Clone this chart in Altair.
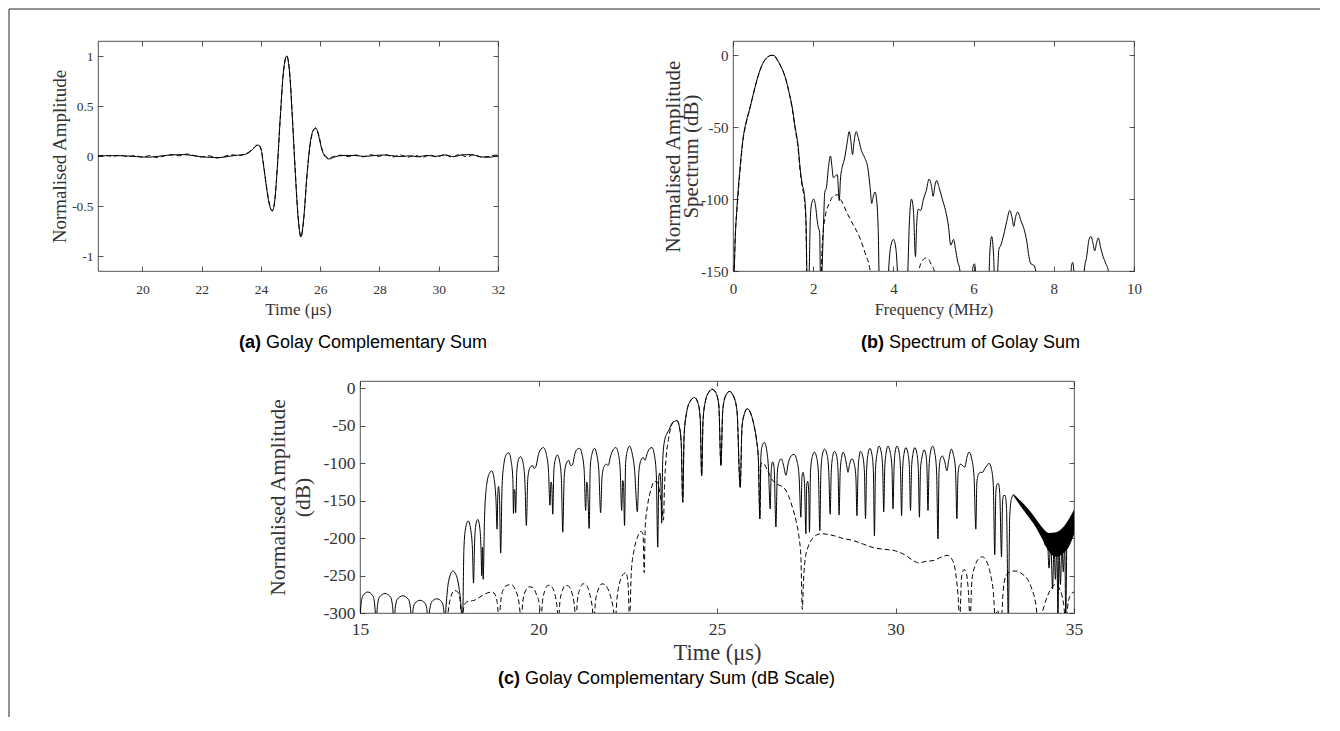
import altair as alt
import pandas as pd

# ---------------- data ----------------
# (a) Golay complementary sum, linear amplitude: (time us, amplitude)
a_solid = [(18.5,0.0),(19.0,0.004),(19.4,0.002),(19.8,-0.006),(20.2,-0.012),(20.5,-0.004),(20.8,0.006),
           (21.1,0.012),(21.4,0.014),(21.7,0.004),(22.0,-0.008),(22.3,-0.014),(22.6,-0.016),(22.9,-0.004),
           (23.2,0.008),(23.45,0.015),(23.6,0.035),(23.75,0.075),(23.9,0.11),(24.0,0.07),(24.08,-0.08),
           (24.18,-0.3),(24.28,-0.48),(24.38,-0.55),(24.46,-0.46),(24.55,-0.12),(24.65,0.38),(24.76,0.85),
           (24.87,1.0),(24.97,0.82),(25.06,0.38),(25.15,-0.12),(25.25,-0.6),(25.35,-0.81),(25.45,-0.6),
           (25.55,-0.2),(25.65,0.1),(25.75,0.25),(25.85,0.28),(25.95,0.2),(26.05,0.07),(26.15,0.0),
           (26.3,-0.03),(26.45,-0.015),(26.6,0.0),(26.9,0.006),(27.2,0.004),(27.5,-0.004),(27.8,0.004),
           (28.1,0.01),(28.4,0.004),(28.7,-0.006),(29.0,0.002),(29.3,-0.008),(29.6,0.006),(29.9,-0.004),
           (30.2,0.01),(30.5,-0.006),(30.8,0.012),(31.1,0.014),(31.4,-0.008),(31.7,-0.012),(32.0,0.004)]
a_dashed = [(18.5,0.0),(18.75,0.006),(19.0,-0.003),(19.25,0.008),(19.5,-0.006),(19.75,0.004),(20.0,-0.012),
            (20.25,0.004),(20.5,-0.016),(20.75,0.002),(21.0,0.014),(21.25,0.002),(21.5,0.02),(21.75,0.004),
            (22.0,-0.01),(22.25,0.002),(22.5,-0.02),(22.75,-0.006),(23.0,0.012),(23.25,0.004),(23.45,0.018),
            (23.6,0.04),(23.75,0.08),(23.9,0.115),(24.0,0.075),(24.08,-0.07),(24.18,-0.29),(24.28,-0.47),
            (24.38,-0.55),(24.46,-0.46),(24.55,-0.13),(24.65,0.37),(24.76,0.84),(24.87,1.0),(24.97,0.83),
            (25.06,0.39),(25.15,-0.11),(25.25,-0.59),(25.35,-0.81),(25.45,-0.61),(25.55,-0.21),(25.65,0.09),
            (25.75,0.24),(25.85,0.28),(25.95,0.21),(26.05,0.08),(26.15,0.01),(26.3,-0.02),(26.45,-0.005),
            (26.7,0.008),(26.95,-0.006),(27.2,0.01),(27.45,-0.008),(27.7,0.012),(27.95,-0.004),(28.2,0.014),
            (28.45,-0.01),(28.7,0.01),(28.95,-0.012),(29.2,0.006),(29.45,-0.014),(29.7,0.01),(29.95,-0.01),
            (30.2,0.016),(30.45,-0.012),(30.7,0.016),(30.95,-0.008),(31.2,0.014),(31.45,-0.012),(31.7,-0.004),
            (31.95,0.01),(32.0,0.008)]

# (b) spectrum: (frequency MHz, dB); values under -150 lie below the axis
b_solid = [(0.0,-170),(0.03,-150),(0.06,-125),(0.1,-105),(0.17,-80),(0.25,-58),(0.33,-46),(0.41,-38),
           (0.48,-30),(0.55,-22),(0.63,-14),(0.72,-7),(0.8,-3),(0.87,-1),(0.95,0),(1.02,0),(1.1,-3),
           (1.2,-8),(1.3,-15),(1.4,-26),(1.47,-35),(1.55,-50),(1.62,-62),(1.68,-80),(1.73,-90),(1.78,-97),
           (1.82,-115),(1.86,-170),(1.90,-150),(1.93,-112),(1.97,-102),(2.01,-100),(2.06,-105),(2.1,-115),
           (2.13,-120),(2.16,-123),(2.19,-170),(2.22,-150),(2.25,-124),(2.29,-95),(2.33,-92),(2.38,-78),
           (2.43,-70),(2.47,-78),(2.5,-85),(2.55,-84),(2.6,-83),(2.65,-101),(2.68,-86),(2.73,-77),
           (2.78,-72),(2.84,-62),(2.9,-53),(2.95,-62),(2.98,-69),(3.02,-60),(3.07,-53),(3.13,-58),
           (3.2,-66),(3.28,-71),(3.36,-78),(3.42,-92),(3.46,-103),(3.5,-98),(3.54,-95),(3.58,-100),
           (3.62,-120),(3.66,-170),(3.85,-170),(3.88,-150),(3.94,-132),(4.0,-128),(4.06,-134),(4.1,-150),
           (4.13,-170),(4.33,-170),(4.36,-150),(4.4,-115),(4.45,-100),(4.5,-108),(4.55,-140),(4.58,-118),
           (4.62,-107),(4.68,-108),(4.75,-100),(4.82,-94),(4.89,-86),(4.95,-91),(4.99,-98),(5.04,-90),
           (5.08,-87),(5.14,-92),(5.22,-100),(5.3,-108),(5.37,-118),(5.43,-132),(5.5,-128),(5.55,-135),
           (5.6,-143),(5.66,-150),(5.7,-170),(5.96,-170),(5.98,-148),(6.02,-145),(6.05,-150),(6.07,-170),
           (6.37,-170),(6.4,-140),(6.45,-126),(6.5,-140),(6.54,-170),(6.6,-150),(6.63,-135),(6.68,-132),
           (6.75,-125),(6.83,-115),(6.9,-108),(6.96,-113),(7.0,-119),(7.05,-112),(7.1,-109),(7.18,-115),
           (7.27,-122),(7.33,-130),(7.38,-140),(7.43,-145),(7.5,-146),(7.55,-150),(7.58,-170),(8.4,-170),
           (8.44,-147),(8.47,-144),(8.5,-150),(8.53,-170),(8.72,-170),(8.76,-150),(8.82,-140),(8.88,-128),
           (8.93,-126),(8.98,-131),(9.02,-136),(9.07,-130),(9.11,-127),(9.17,-134),(9.23,-140),(9.3,-145),
           (9.36,-150),(9.4,-170),(10.0,-170)]
b_dashed = [(0.0,-170),(0.03,-150),(0.05,-130),(0.1,-107),(0.17,-82),(0.25,-59),(0.33,-47),(0.41,-38),
            (0.48,-30),(0.55,-22),(0.63,-14),(0.72,-7),(0.8,-3),(0.87,-1),(0.95,0),(1.02,0),(1.1,-3),
            (1.2,-8),(1.3,-15),(1.4,-26),(1.47,-36),(1.55,-51),(1.62,-64),(1.68,-82),(1.73,-92),(1.78,-100),
            (1.82,-118),(1.85,-170),(2.18,-170),(2.22,-135),(2.3,-112),(2.4,-103),(2.5,-98),(2.6,-97),
            (2.7,-101),(2.85,-110),(3.0,-118),(3.15,-126),(3.3,-138),(3.42,-150),(3.46,-170),(4.6,-170),
            (4.65,-148),(4.72,-143),(4.8,-141),(4.88,-142),(4.95,-146),(5.02,-150),(5.05,-170)]

# (c) dB scale sum: (time us, dB); values under -300 lie below the axis
c_solid = [(15.00,-310),(15.03,-288),(15.08,-277),(15.22,-272),(15.36,-277),(15.41,-288),(15.45,-310),
           (15.49,-290),(15.54,-279),(15.70,-274),(15.86,-279),(15.91,-290),(15.95,-310),
           (15.99,-292),(16.04,-282),(16.20,-277),(16.36,-282),(16.41,-292),(16.45,-310),
           (16.49,-294),(16.54,-287),(16.68,-283),(16.82,-287),(16.87,-294),(16.91,-310),
           (16.96,-293),(17.01,-285),(17.15,-281),(17.29,-285),(17.34,-293),(17.38,-310),
           (17.42,-285),(17.48,-258),(17.60,-244),(17.70,-250),(17.77,-265),(17.83,-290),(17.86,-310),
           (17.88,-300),(17.91,-215),(17.96,-186),(18.03,-177),(18.10,-188),(18.15,-215),(18.18,-260),
           (18.21,-205),(18.25,-181),(18.30,-175),(18.36,-188),(18.39,-215),(18.41,-250),(18.43,-212),(18.45,-255),
           (18.49,-170),(18.55,-128),(18.62,-114),(18.69,-110),(18.76,-122),(18.81,-150),(18.84,-188),(18.86,-140),
           (18.88,-131),(18.91,-150),(18.94,-220),
           (18.98,-130),(19.04,-98),(19.10,-88),(19.17,-86),(19.23,-96),(19.28,-120),(19.30,-167),(19.32,-135),
           (19.34,-138),(19.36,-166),
           (19.39,-112),(19.44,-95),(19.50,-91),(19.57,-100),(19.62,-125),(19.66,-183),
           (19.70,-120),(19.76,-106),(19.83,-103),(19.88,-107),(19.93,-104),(20.00,-88),(20.07,-81),(20.14,-79),
           (20.22,-88),(20.28,-110),(20.32,-156),(20.35,-125),(20.37,-128),(20.40,-168),
           (20.43,-110),(20.47,-95),(20.53,-89),(20.59,-97),(20.64,-120),(20.68,-192),
           (20.72,-118),(20.78,-100),(20.85,-96),(20.90,-103),(20.95,-102),(21.02,-87),(21.09,-81),(21.15,-80),
           (21.22,-88),(21.28,-110),(21.32,-163),(21.35,-125),(21.37,-128),(21.42,-187),
           (21.45,-105),(21.50,-87),(21.57,-80),(21.63,-88),(21.69,-110),(21.74,-166),
           (21.78,-118),(21.84,-104),(21.90,-101),(21.95,-103),(22.02,-90),(22.09,-82),(22.17,-79),(22.24,-88),
           (22.29,-110),(22.33,-163),(22.36,-123),(22.38,-126),(22.41,-183),
           (22.44,-100),(22.49,-83),(22.55,-77),(22.62,-86),(22.69,-108),(22.77,-165),
           (22.81,-112),(22.87,-96),(22.93,-92),(22.98,-96),(23.05,-86),(23.12,-80),(23.18,-79),(23.25,-90),
           (23.30,-115),(23.34,-212),
           (23.37,-118),(23.40,-113),(23.43,-130),(23.45,-180),(23.48,-95),(23.53,-70),(23.60,-60),(23.66,-55),
           (23.72,-48),(23.80,-44),(23.88,-43),(23.95,-52),(24.00,-75),(24.04,-152),
           (24.08,-62),(24.15,-32),(24.25,-17),(24.37,-12),(24.47,-20),(24.53,-40),(24.57,-117),
           (24.61,-42),(24.68,-16),(24.77,-5),(24.86,-1),(24.96,-5),(25.05,-22),(25.11,-103),
           (25.16,-30),(25.24,-10),(25.35,-4),(25.46,-10),(25.56,-30),(25.65,-132),
           (25.70,-52),(25.76,-35),(25.85,-27),(25.95,-34),(26.04,-50),(26.11,-70),(26.16,-95),(26.20,-174),
           (26.23,-90),(26.27,-76),(26.33,-72),(26.39,-82),(26.44,-105),(26.49,-161),
           (26.52,-108),(26.56,-98),(26.60,-106),(26.65,-185),
           (26.69,-112),(26.74,-98),(26.80,-94),(26.87,-104),(26.93,-116),(27.00,-99),(27.08,-90),(27.16,-88),
           (27.24,-97),(27.30,-118),(27.35,-172),
           (27.38,-118),(27.41,-112),(27.45,-125),(27.49,-194),(27.51,-130),(27.54,-124),(27.57,-140),(27.59,-192),
           (27.62,-110),(27.67,-91),(27.73,-85),(27.79,-92),(27.84,-112),(27.88,-190),
           (27.91,-112),(27.95,-89),(28.01,-81),(28.08,-88),(28.13,-110),(28.17,-168),
           (28.20,-112),(28.24,-91),(28.29,-84),(28.35,-90),(28.39,-110),(28.42,-169),
           (28.45,-112),(28.49,-92),(28.53,-85),(28.59,-92),(28.64,-105),(28.67,-112),(28.71,-102),(28.78,-94),
           (28.84,-100),(28.89,-118),(28.92,-170),
           (28.95,-112),(28.98,-92),(29.02,-84),(29.08,-90),(29.13,-112),(29.16,-174),
           (29.19,-110),(29.23,-88),(29.28,-80),(29.34,-88),(29.38,-110),(29.41,-197),
           (29.44,-108),(29.49,-85),(29.54,-77),(29.60,-85),(29.64,-105),(29.67,-165),
           (29.70,-105),(29.74,-85),(29.79,-77),(29.85,-85),(29.90,-105),(29.93,-161),
           (29.96,-105),(29.99,-85),(30.04,-77),(30.10,-85),(30.14,-108),(30.17,-170),
           (30.20,-108),(30.24,-87),(30.29,-79),(30.35,-87),(30.39,-106),(30.42,-163),
           (30.45,-106),(30.49,-87),(30.54,-79),(30.60,-87),(30.64,-108),(30.67,-172),
           (30.70,-108),(30.75,-90),(30.80,-82),(30.85,-88),(30.88,-105),(30.91,-163),
           (30.94,-105),(30.98,-85),(31.04,-77),(31.10,-86),(31.15,-110),(31.19,-201),
           (31.22,-110),(31.26,-94),(31.31,-90),(31.38,-98),(31.44,-110),(31.49,-96),(31.56,-81),(31.62,-88),
           (31.68,-108),(31.72,-174),
           (31.75,-115),(31.79,-103),(31.83,-101),(31.88,-103),(31.94,-105),(32.00,-92),(32.06,-85),(32.13,-93),
           (32.20,-118),(32.25,-188),
           (32.28,-125),(32.33,-114),(32.38,-112),(32.44,-112),(32.50,-107),(32.56,-103),(32.62,-100),(32.69,-108),
           (32.74,-130),(32.78,-222),
           (32.81,-140),(32.84,-128),(32.88,-127),(32.92,-140),(32.97,-225),
           (33.00,-150),(33.03,-143),(33.07,-143),(33.11,-160),(33.16,-310),
           (33.20,-170),(33.25,-147),(33.31,-142),(33.40,-146),(33.50,-152),(33.62,-160),(33.75,-168),
           (33.88,-176),(34.00,-184),(34.12,-192),(34.20,-210),(34.25,-196),(34.30,-240),(34.35,-205),
           (34.40,-268),(34.44,-210),(34.48,-255),(34.52,-205),(34.55,-310),(34.58,-215),(34.62,-262),
           (34.66,-210),(34.70,-245),(34.74,-205),(34.77,-310),(34.80,-205),(34.85,-195),(34.90,-185),
           (34.95,-175),(35.00,-165)]
c_dashed = [(17.44,-310),(17.50,-288),(17.56,-276),(17.65,-270),(17.74,-272),(17.80,-282),(17.85,-310),
            (17.88,-300),(17.92,-290),(18.00,-285),(18.10,-284),(18.20,-283),(18.32,-280),(18.45,-276),
            (18.58,-273),(18.70,-272),(18.78,-275),(18.84,-285),(18.90,-310),
            (18.94,-285),(19.02,-268),(19.12,-263),(19.23,-262),(19.34,-268),(19.45,-285),(19.52,-310),
            (19.56,-285),(19.64,-270),(19.74,-265),(19.84,-266),(19.94,-275),(20.03,-290),(20.07,-310),
            (20.11,-285),(20.18,-270),(20.27,-263),(20.35,-264),(20.44,-272),(20.51,-288),(20.56,-310),
            (20.60,-285),(20.67,-270),(20.76,-263),(20.84,-264),(20.93,-272),(21.00,-288),(21.05,-310),
            (21.09,-283),(21.16,-268),(21.25,-261),(21.33,-262),(21.42,-272),(21.50,-290),(21.55,-310),
            (21.60,-283),(21.68,-268),(21.78,-261),(21.88,-263),(21.98,-272),(22.08,-290),(22.15,-310),
            (22.20,-280),(22.27,-260),(22.36,-249),(22.45,-246),(22.51,-262),(22.55,-310),
            (22.60,-245),(22.68,-215),(22.77,-199),(22.87,-191),(22.93,-195),(22.96,-246),(22.99,-185),
            (23.06,-155),(23.15,-135),(23.25,-124),(23.33,-125),(23.40,-140),(23.46,-160),(23.50,-176),
            (23.53,-130),(23.58,-90),(23.64,-68),(23.72,-50),(23.80,-44),(23.88,-43),(23.95,-52),(24.00,-75),
            (24.04,-152),
            (24.08,-62),(24.15,-32),(24.25,-17),(24.37,-12),(24.47,-20),(24.53,-40),(24.57,-117),
            (24.61,-42),(24.68,-16),(24.77,-5),(24.86,-1),(24.96,-5),(25.05,-22),(25.11,-103),
            (25.16,-30),(25.24,-10),(25.35,-4),(25.46,-10),(25.56,-30),(25.65,-132),
            (25.70,-52),(25.76,-35),(25.85,-27),(25.95,-34),(26.04,-50),(26.11,-70),(26.16,-95),(26.20,-174),
            (26.23,-100),(26.30,-100),(26.40,-108),(26.52,-120),(26.65,-127),(26.78,-130),(26.88,-133),
            (27.00,-143),(27.12,-160),(27.22,-178),(27.30,-200),(27.35,-225),(27.39,-295),(27.42,-260),
            (27.47,-228),(27.55,-212),(27.65,-202),(27.78,-196),(27.92,-194),(28.10,-195),(28.30,-197),
            (28.50,-200),(28.80,-203),(29.10,-208),(29.40,-213),(29.70,-215),(30.00,-217),(30.25,-222),
            (30.50,-230),(30.65,-233),(30.85,-231),(31.05,-230),(31.30,-225),(31.45,-223),(31.58,-228),
            (31.68,-245),(31.75,-275),(31.80,-310),(31.85,-252),(31.92,-242),(31.98,-246),(32.04,-270),
            (32.09,-310),(32.14,-256),(32.22,-238),(32.32,-228),(32.44,-225),(32.56,-232),(32.66,-248),
            (32.74,-272),(32.80,-310),(32.85,-296),(32.90,-302),(32.96,-310),(33.02,-268),(33.10,-250),
            (33.25,-244),(33.40,-244),(33.55,-248),(33.70,-255),(33.82,-268),(33.92,-285),(34.00,-310),
            (34.10,-300),(34.22,-282),(34.35,-268),(34.48,-262),(34.60,-268),(34.70,-285),(34.77,-310),
            (34.84,-285),(34.92,-275),(35.00,-272)]

# dense oscillation band at the right end of (c)
blob_t = [33.30, 33.50, 33.70, 33.90, 34.10, 34.30, 34.50, 34.70, 34.85, 35.00]
blob_hi = [-142, -150, -160, -172, -185, -193, -192, -185, -175, -162]
blob_lo = [-143, -157, -170, -183, -200, -218, -225, -220, -212, -195]

a_xticks = [20, 22, 24, 26, 28, 30, 32]
a_yticks = [-1, -0.5, 0, 0.5, 1]
b_xticks = [0, 2, 4, 6, 8, 10]
b_yticks = [-150, -100, -50, 0]
c_xticks = [15, 20, 25, 30, 35]
c_yticks = [-300, -250, -200, -150, -100, -50, 0]

cap_tags = ["(a)", "(b)", "(c)"]
cap_texts = ["Golay Complementary Sum", "Spectrum of Golay Sum", "Golay Complementary Sum (dB Scale)"]

# ---------------- styling ----------------
SERIF = "Liberation Serif"
SANS = "Liberation Sans"
INK = "#262626"
TXT = "#333333"


def to_df(pairs):
    return pd.DataFrame({"x": [p[0] for p in pairs], "y": [p[1] for p in pairs],
                         "i": list(range(len(pairs)))})


def ax_bottom(vals, title, lsize, tsize, lpad, ty):
    return alt.Axis(orient="bottom", values=vals, title=title, offset=-5, tickSize=5, tickWidth=0.8,
                    tickColor=INK, domain=False, grid=False, labelFont=SERIF, labelFontSize=lsize,
                    labelColor=TXT, labelPadding=lpad, labelFlush=False, labelOverlap=False,
                    labelExpr="'' + datum.value", titleFont=SERIF, titleFontSize=tsize,
                    titleFontWeight="normal", titleColor=TXT, titleY=ty, titleBaseline="middle")


def ax_left(vals, title, lsize, tsize, tx, ty, lh):
    return alt.Axis(orient="left", values=vals, title=title, offset=-5, tickSize=5, tickWidth=0.8,
                    tickColor=INK, domain=False, grid=False, labelFont=SERIF, labelFontSize=lsize,
                    labelColor=TXT, labelPadding=5, labelOverlap=False, labelExpr="'' + datum.value",
                    titleFont=SERIF, titleFontSize=tsize, titleFontWeight="normal", titleColor=TXT,
                    titleX=tx, titleY=ty, titleAngle=270, titleAlign="center", titleBaseline="middle",
                    titleLineHeight=lh)


def ax_top(vals):
    return alt.Axis(orient="top", values=vals, title="", labels=False, offset=-5, tickSize=5,
                    tickWidth=0.8, tickColor=INK, domain=False, grid=False)


def ax_right(vals):
    return alt.Axis(orient="right", values=vals, title="", labels=False, offset=-5, tickSize=5,
                    tickWidth=0.8, tickColor=INK, domain=False, grid=False)


one = pd.DataFrame({"k": [0]})


def caption(idx, x, y, dx):
    t1 = alt.Chart(one).mark_text(font=SANS, fontSize=18, fontWeight="bold", align="left",
                                  baseline="middle", color="black").encode(
        x=alt.value(x), y=alt.value(y), text=alt.value(cap_tags[idx]))
    t2 = alt.Chart(one).mark_text(font=SANS, fontSize=18, align="left", baseline="middle",
                                  color="black").encode(
        x=alt.value(x + dx), y=alt.value(y), text=alt.value(cap_texts[idx]))
    return [t1, t2]


def panel(solid, dashed, xs, ys, xt, yt, xaxis, yaxis, w, h, extra):
    dash = alt.Chart(to_df(dashed)).mark_line(color="black", strokeWidth=1, strokeDash=[5, 3], clip=True,
                                               interpolate="monotone").encode(
        x=alt.X("x:Q", scale=xs, axis=ax_top(xt)),
        y=alt.Y("y:Q", scale=ys, axis=ax_right(yt)),
        order="i:Q")
    sol = alt.Chart(to_df(solid)).mark_line(color="black", strokeWidth=1, clip=True,
                                            interpolate="monotone").encode(
        x=alt.X("x:Q", scale=xs, axis=xaxis),
        y=alt.Y("y:Q", scale=ys, axis=yaxis),
        order="i:Q")
    return alt.layer(dash, sol, *extra).resolve_axis(x="independent", y="independent").properties(
        width=w, height=h)


W_A, W_B, W_C = 400, 401, 714
H_AB, H_C = 230, 232

# panel (a)
xs_a = alt.Scale(domain=[18.5, 32], nice=False, zero=False)
ys_a = alt.Scale(domain=[-1.15, 1.15], nice=False, zero=False)
frame_left = alt.Chart(one).mark_rule(color=INK, strokeWidth=1).encode(
    x=alt.value(-89), y=alt.value(-32), y2=alt.value(676))
frame_top = alt.Chart(one).mark_rule(color=INK, strokeWidth=1).encode(
    x=alt.value(-89), x2=alt.value(1222), y=alt.value(-32))
pa = panel(a_solid, a_dashed, xs_a, ys_a, a_xticks, a_yticks,
           ax_bottom(a_xticks, "Time (μs)", 13.5, 17, 11, 43),
           ax_left(a_yticks, "Normalised Amplitude", 13.5, 19, -44, H_AB / 2, 20),
           W_A, H_AB, [frame_left, frame_top] + caption(0, 141, 302, 27))

# panel (b)
xs_b = alt.Scale(domain=[0, 10], nice=False, zero=False)
ys_b = alt.Scale(domain=[-150, 10], nice=False, zero=False)
pb = panel(b_solid, b_dashed, xs_b, ys_b, b_xticks, b_yticks,
           ax_bottom(b_xticks, "Frequency (MHz)", 15, 16.5, 10, 43),
           ax_left(b_yticks, ["Normalised Amplitude", "Spectrum (dB)"], 15, 21, -65, H_AB / 2, 18),
           W_B, H_AB, caption(1, 128, 302, 28))

# panel (c)
xs_c = alt.Scale(domain=[15, 35], nice=False, zero=False)
ys_c = alt.Scale(domain=[-300, 10], nice=False, zero=False)
blob = alt.Chart(pd.DataFrame({"t": blob_t, "hi": blob_hi, "lo": blob_lo})).mark_area(
    color="black", clip=True, interpolate="monotone").encode(
    x=alt.X("t:Q", scale=xs_c, axis=None),
    y=alt.Y("hi:Q", scale=ys_c, axis=None),
    y2="lo:Q")
pc = panel(c_solid, c_dashed, xs_c, ys_c, c_xticks, c_yticks,
           ax_bottom(c_xticks, "Time (μs)", 17.5, 22.5, 7, 44),
           ax_left(c_yticks, ["Normalised Amplitude", "(dB)"], 17.5, 21.5, -87, H_C / 2, 25),
           W_C, H_C, [blob] + caption(2, 138, 298, 27))

spacer = alt.Chart(one).mark_point(opacity=0).encode(x=alt.value(0), y=alt.value(0)).properties(
    width=262, height=10, view=alt.ViewBackground(stroke="transparent"))

row1 = alt.hconcat(pa, pb, spacing=235, bounds="flush")
row2 = alt.hconcat(spacer, pc, spacing=0, bounds="flush")
chart = alt.vconcat(row1, row2, spacing=340, bounds="flush").properties(padding=0).configure_view(
    stroke=INK, strokeWidth=0.8)

chart.save("out.html", embed_options={"renderer": "svg", "actions": False})
